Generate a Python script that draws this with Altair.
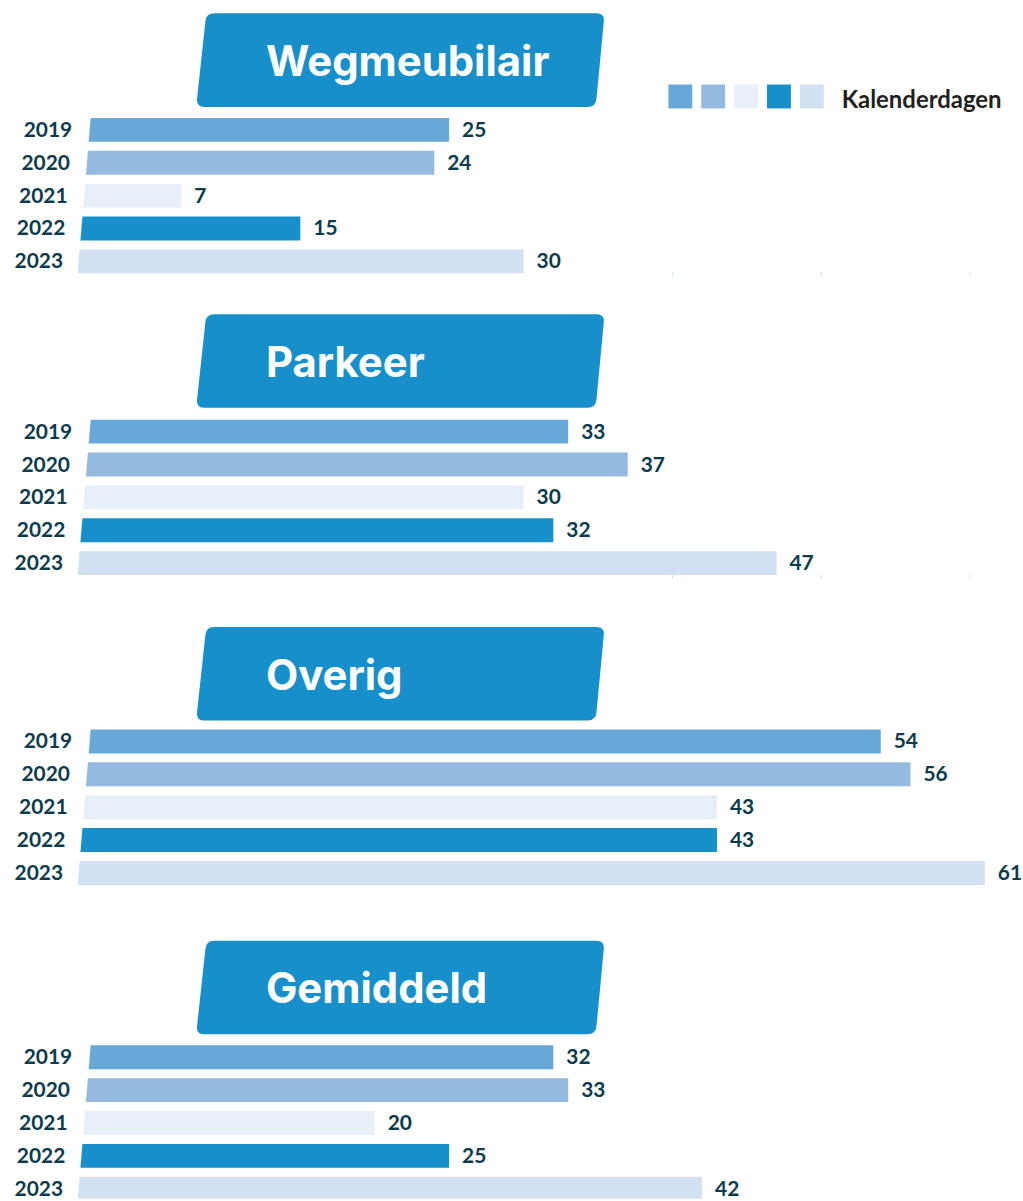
import altair as alt
import pandas as pd

# ---------------- data ----------------
years = [2019, 2020, 2021, 2022, 2023]
categories = ["Wegmeubilair", "Parkeer", "Overig", "Gemiddeld"]
wegmeubilair = [25, 24, 7, 15, 30]
parkeer = [33, 37, 30, 32, 47]
overig = [54, 56, 43, 43, 61]
gemiddeld = [32, 33, 20, 25, 42]
series = [wegmeubilair, parkeer, overig, gemiddeld]
year_colors = ["#68A8D8", "#94BAE0", "#E7EFF8", "#168FCB", "#D2E1F1"]
legend_title = "Kalenderdagen"
tick_values = [40, 50, 60]

# ---------------- styles / layout ----------------
TITLE_BLUE = "#168FCB"
TEXT_TEAL = "#0C3B4B"
LEGEND_TEXT = "#231F20"
TICK_COLOR = "#BFE3F4"
W = 1023
PX_PER_UNIT = 14.94
ZERO_PX = 77.4
x_lo = -ZERO_PX / PX_PER_UNIT
x_hi = x_lo + W / PX_PER_UNIT
xscale = alt.Scale(domain=[x_lo, x_hi], nice=False, zero=False, padding=0)
cscale = alt.Scale(domain=[str(y) for y in years], range=year_colors)
PITCH = 33.0

# panel layout: (height, title box top, first bar centre, tick rule y or None)
panels = [
    (313, 11, 128, 271),
    (314, 0, 118, 262),
    (315, 0, 115, None),
    (259, 0, 117, None),
]

BOX_PATH = ("M 18,0 L 402,0 Q 410,0 409.2,8 L 401.8,86 Q 401,94 393,94 "
            "L 8,94 Q 0,94 0.8,86 L 9.2,8 Q 10,0 18,0 Z")
MASK_PATH = "M -3,-2 L 15.2,-2 L 1.8,158 L -3,158 Z"


def panel(idx):
    h, ttop, c0, tick_y = panels[idx]
    name = categories[idx]
    vals = series[idx]
    y0 = years[0] - c0 / PITCH
    y1 = y0 + h / PITCH
    yscale = alt.Scale(domain=[y0, y1], reverse=True, nice=False, zero=False,
                       padding=0)

    df = pd.DataFrame({"year": years, "value": vals,
                       "yr": [str(y) for y in years]})
    one = pd.DataFrame({"t": [name]})

    box = alt.Chart(one).mark_point(
        shape=BOX_PATH, size=4, filled=True, color=TITLE_BLUE,
        strokeWidth=0, opacity=1
    ).encode(x=alt.value(197), y=alt.value(ttop))

    title = alt.Chart(one).mark_text(
        font="Inter", fontWeight=700, fontSize=42, color="white",
        align="left", baseline="alphabetic"
    ).encode(x=alt.value(267), y=alt.value(ttop + 63), text="t:N")

    base = alt.Chart(df)
    bars = base.mark_bar(size=24, orient="horizontal", clip=(idx == 3)).encode(
        x=alt.X("value:Q", scale=xscale, axis=None),
        x2=alt.datum(0),
        y=alt.Y("year:Q", scale=yscale, axis=None),
        color=alt.Color("yr:N", scale=cscale, legend=None),
    )

    mask = alt.Chart(one).mark_point(
        shape=MASK_PATH, size=4, filled=True, color="white",
        strokeWidth=0, opacity=1
    ).encode(x=alt.value(ZERO_PX - 1.4), y=alt.value(c0 - 12))

    ylabels = base.transform_calculate(
        lx="-0.33 - 0.154 * (datum.year - 2019)"
    ).mark_text(
        font="Lato", fontWeight="bold", fontSize=21, color=TEXT_TEAL,
        align="right", baseline="middle", dy=1
    ).encode(
        x=alt.X("lx:Q", scale=xscale, axis=None),
        y=alt.Y("year:Q", scale=yscale, axis=None),
        text=alt.Text("yr:N"),
    )

    vlabels = base.mark_text(
        font="Lato", fontWeight="bold", fontSize=21, color=TEXT_TEAL,
        align="left", baseline="middle", dx=13, dy=1
    ).encode(
        x=alt.X("value:Q", scale=xscale, axis=None),
        y=alt.Y("year:Q", scale=yscale, axis=None),
        text=alt.Text("value:Q"),
    )

    layers = [box, title, bars, mask, ylabels, vlabels]

    if tick_y is not None:
        tdf = pd.DataFrame({"v": tick_values})
        ticks = alt.Chart(tdf).mark_rule(color=TICK_COLOR, strokeWidth=1).encode(
            x=alt.X("v:Q", scale=xscale, axis=None),
            y=alt.value(tick_y), y2=alt.value(tick_y + 4),
        )
        layers.insert(2, ticks)

    if idx == 0:
        for i, yv in enumerate(years):
            sq = alt.Chart(pd.DataFrame({"yr": [str(yv)]})).mark_square(
                size=576, opacity=1, strokeWidth=0
            ).encode(
                x=alt.value(683 + PITCH * i), y=alt.value(94.5),
                color=alt.Color("yr:N", scale=cscale, legend=None),
            )
            layers.append(sq)
        ltxt = alt.Chart(pd.DataFrame({"t": [legend_title]})).mark_text(
            font="Lato", fontWeight="bold", fontSize=24, color=LEGEND_TEXT,
            align="left", baseline="alphabetic"
        ).encode(x=alt.value(845), y=alt.value(106), text="t:N")
        layers.append(ltxt)

    return alt.layer(*layers).properties(width=W, height=h)


chart = alt.vconcat(*[panel(i) for i in range(4)], spacing=0).resolve_scale(
    y="independent"
).properties(
    padding=0, background="white"
).configure_view(strokeWidth=0)

chart.save("out.html", embed_options={"renderer": "svg", "actions": False})
